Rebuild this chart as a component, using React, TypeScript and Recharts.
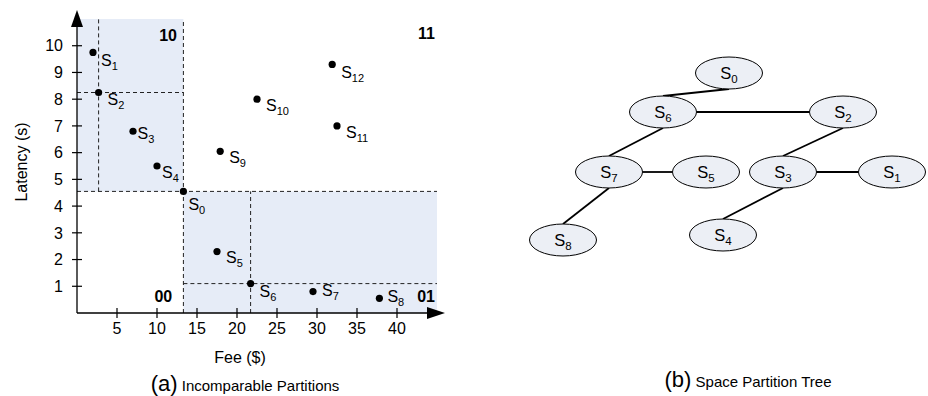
import React from 'react';
import {
  ScatterChart,
  Scatter,
  XAxis,
  YAxis,
  ReferenceArea,
  ReferenceLine,
  ReferenceDot,
} from 'recharts';

// ---------- Data: panel (a) ----------
const serviceNames = ['S0', 'S1', 'S2', 'S3', 'S4', 'S5', 'S6', 'S7', 'S8', 'S9', 'S10', 'S11', 'S12'];
const fees = [13.3, 2.0, 2.7, 7.0, 10.0, 17.5, 21.7, 29.5, 37.8, 17.9, 22.5, 32.5, 31.9];
const latencies = [4.55, 9.75, 8.25, 6.8, 5.5, 2.3, 1.1, 0.8, 0.55, 6.05, 8.0, 7.0, 9.3];
const feeTicks = [5, 10, 15, 20, 25, 30, 35, 40];
const latencyTicks = [1, 2, 3, 4, 5, 6, 7, 8, 9, 10];
const feeDomain: [number, number] = [0, 45];
const latencyDomain: [number, number] = [0, 11];
const regionCodes = ['10', '11', '00', '01'];
const regionFee = [12.5, 44.75, 11.9, 44.75];
const regionLatency = [10.4, 10.45, 0.62, 0.62];

// ---------- Data: panel (b) ----------
const treeNodes = ['S0', 'S6', 'S2', 'S7', 'S5', 'S3', 'S1', 'S8', 'S4'];
const treeX = [729, 663, 843, 609, 706, 783, 892, 563, 723];
const treeY = [73, 112, 112, 172, 172, 172, 172, 240, 235];
const treeEdges: [string, string][] = [
  ['S0', 'S6'],
  ['S6', 'S2'],
  ['S6', 'S7'],
  ['S7', 'S5'],
  ['S7', 'S8'],
  ['S2', 'S3'],
  ['S3', 'S1'],
  ['S3', 'S4'],
];

// ---------- Styles ----------
const FONT = '"Liberation Sans", Arial, Helvetica, sans-serif';
const SHADE = '#e6ecf7';
const NODE_FILL = '#eceff5';
const RX = 33.5;
const RY = 16;
const TICK_SIZE = 5;
const X_TICK_MARGIN = 5;
const Y_TICK_MARGIN = 9;

const defaultLabelOffset = { dx: 9, dy: 6 };
const labelOffsets: Record<string, { dx: number; dy: number }> = {
  S0: { dx: 5, dy: 13 },
  S1: { dx: 8, dy: 8 },
  S2: { dx: 9, dy: 7 },
  S3: { dx: 4.5, dy: 2.5 },
  S4: { dx: 5, dy: 6 },
  S6: { dx: 9, dy: 8 },
  S7: { dx: 9, dy: -1 },
  S8: { dx: 8, dy: -2 },
  S12: { dx: 9, dy: 8 },
};

const points = serviceNames.map((name, i) => ({ name, x: fees[i], y: latencies[i] }));
const nodes = treeNodes.map((name, i) => ({ name, x: treeX[i], y: treeY[i] }));
const nodeByName: Record<string, { x: number; y: number }> = {};
nodes.forEach((n) => (nodeByName[n.name] = n));

const pivot = points[0]; // S0
const pivotTop = points[2]; // S2
const pivotBottom = points[6]; // S6

const SubLabel = ({ x, y, name, anchor, size = 16, sub = 11 }: any) => (
  <text x={x} y={y} textAnchor={anchor} fontSize={size} fill="#000" fontFamily={FONT}>
    <tspan>{name.slice(0, 1)}</tspan>
    <tspan fontSize={sub} dy={4}>
      {name.slice(1)}
    </tspan>
  </text>
);

const PointShape = (props: any) => {
  const { cx, cy, payload } = props;
  const off = labelOffsets[payload.name] ?? defaultLabelOffset;
  return (
    <g>
      <circle cx={cx} cy={cy} r={3.6} fill="#000" />
      <SubLabel x={cx + off.dx} y={cy + off.dy + 5.7} name={payload.name} anchor="start" />
    </g>
  );
};

const NodeShape = (props: any) => {
  const { cx, cy, payload } = props;
  return (
    <g>
      <ellipse cx={cx} cy={cy} rx={RX} ry={RY} fill={NODE_FILL} stroke="#000" strokeWidth={1} />
      <SubLabel x={cx} y={cy + 5.9} name={payload.name} anchor="middle" size={16.5} sub={11.5} />
    </g>
  );
};

const XTick = (props: any) => {
  const { x, y, payload } = props;
  const axisY = y - TICK_SIZE - X_TICK_MARGIN;
  return (
    <g>
      <line x1={x} x2={x} y1={axisY - 5} y2={axisY + 5} stroke="#000" strokeWidth={1.2} />
      <text x={x} y={y} dy="0.71em" textAnchor="middle" fontSize={16} fill="#000" fontFamily={FONT}>
        {payload.value}
      </text>
    </g>
  );
};

const YTick = (props: any) => {
  const { x, y, payload } = props;
  const axisX = x + TICK_SIZE + Y_TICK_MARGIN;
  return (
    <g>
      <line x1={axisX - 5} x2={axisX + 5} y1={y} y2={y} stroke="#000" strokeWidth={1.2} />
      <text x={x} y={y} dy="0.36em" textAnchor="end" fontSize={16} fill="#000" fontFamily={FONT}>
        {payload.value}
      </text>
    </g>
  );
};

const UpArrow = (props: any) => {
  const { cx, cy } = props;
  return <polygon points={`${cx},${cy - 9} ${cx - 6},${cy + 8} ${cx + 6},${cy + 8}`} fill="#000" />;
};

const RightArrow = (props: any) => {
  const { cx, cy } = props;
  return <polygon points={`${cx + 8},${cy} ${cx - 10},${cy - 6} ${cx - 10},${cy + 6}`} fill="#000" />;
};

const RegionText = (text: string) => (props: any) => {
  const { cx, cy } = props;
  return (
    <text x={cx} y={cy + 5.7} textAnchor="end" fontSize={16} fontWeight="bold" fill="#000" fontFamily={FONT}>
      {text}
    </text>
  );
};

const dash = { stroke: '#222', strokeDasharray: '4 3', strokeWidth: 1 };

function edgeSegment(a: string, b: string) {
  const p = nodeByName[a];
  const c = nodeByName[b];
  if (p.y === c.y) {
    const s = c.x > p.x ? 1 : -1;
    return [
      { x: p.x + s * RX, y: p.y },
      { x: c.x - s * RX, y: c.y },
    ];
  }
  return [
    { x: p.x, y: p.y + RY },
    { x: c.x, y: c.y - RY },
  ];
}

export default function App() {
  return (
    <div
      style={{
        position: 'absolute',
        left: 0,
        top: 0,
        width: 928,
        height: 396,
        background: '#fff',
        fontFamily: FONT,
        overflow: 'hidden',
      }}
    >
      <div style={{ position: 'absolute', left: 0, top: 0 }}>
        <ScatterChart width={470} height={396} margin={{ top: 19, right: 33, left: 17, bottom: 53 }}>
          <XAxis
            type="number"
            dataKey="x"
            domain={feeDomain}
            ticks={feeTicks}
            allowDataOverflow
            height={30}
            tickSize={TICK_SIZE}
            tickMargin={X_TICK_MARGIN}
            tickLine={false}
            axisLine={{ stroke: '#000', strokeWidth: 1.3 }}
            tick={<XTick />}
            label={{
              content: (p: any) => (
                <text
                  x={p.viewBox.x + 163}
                  y={p.viewBox.y + 50}
                  textAnchor="middle"
                  fontSize={16}
                  fill="#000"
                  fontFamily={FONT}
                >
                  Fee ($)
                </text>
              ),
            }}
          />
          <YAxis
            type="number"
            dataKey="y"
            domain={latencyDomain}
            ticks={latencyTicks}
            allowDataOverflow
            width={60}
            tickSize={TICK_SIZE}
            tickMargin={Y_TICK_MARGIN}
            tickLine={false}
            axisLine={{ stroke: '#000', strokeWidth: 1.3 }}
            tick={<YTick />}
            label={{
              content: (p: any) => {
                const cx = p.viewBox.x + 4;
                const cy = 162;
                return (
                  <text
                    x={cx}
                    y={cy}
                    transform={`rotate(-90, ${cx}, ${cy})`}
                    textAnchor="middle"
                    dy="0.36em"
                    fontSize={16}
                    fill="#000"
                    fontFamily={FONT}
                  >
                    Latency (s)
                  </text>
                );
              },
            }}
          />
          <ReferenceArea
            x1={feeDomain[0]}
            x2={pivot.x}
            y1={pivot.y}
            y2={latencyDomain[1]}
            fill={SHADE}
            fillOpacity={1}
            stroke="none"
          />
          <ReferenceArea
            x1={pivot.x}
            x2={feeDomain[1]}
            y1={latencyDomain[0]}
            y2={pivot.y}
            fill={SHADE}
            fillOpacity={1}
            stroke="none"
          />
          <ReferenceLine
            segment={[
              { x: pivot.x, y: latencyDomain[0] },
              { x: pivot.x, y: latencyDomain[1] },
            ]}
            {...dash}
          />
          <ReferenceLine
            segment={[
              { x: feeDomain[0], y: pivot.y },
              { x: feeDomain[1], y: pivot.y },
            ]}
            {...dash}
          />
          <ReferenceLine
            segment={[
              { x: pivotTop.x, y: pivot.y },
              { x: pivotTop.x, y: latencyDomain[1] },
            ]}
            {...dash}
          />
          <ReferenceLine
            segment={[
              { x: feeDomain[0], y: pivotTop.y },
              { x: pivot.x, y: pivotTop.y },
            ]}
            {...dash}
          />
          <ReferenceLine
            segment={[
              { x: pivotBottom.x, y: latencyDomain[0] },
              { x: pivotBottom.x, y: pivot.y },
            ]}
            {...dash}
          />
          <ReferenceLine
            segment={[
              { x: pivot.x, y: pivotBottom.y },
              { x: feeDomain[1], y: pivotBottom.y },
            ]}
            {...dash}
          />
          {regionCodes.map((code, i) => (
            <ReferenceDot
              key={code}
              x={regionFee[i]}
              y={regionLatency[i]}
              r={0}
              ifOverflow="visible"
              shape={RegionText(code)}
            />
          ))}
          <ReferenceDot x={0} y={latencyDomain[1]} r={0} ifOverflow="visible" shape={<UpArrow />} />
          <ReferenceDot x={feeDomain[1]} y={0} r={0} ifOverflow="visible" shape={<RightArrow />} />
          <Scatter data={points} shape={<PointShape />} isAnimationActive={false} />
        </ScatterChart>
      </div>

      <div style={{ position: 'absolute', left: 470, top: 0 }}>
        <ScatterChart width={458} height={396} margin={{ top: 0, right: 0, left: 0, bottom: 0 }}>
          <XAxis type="number" dataKey="x" domain={[470, 928]} hide />
          <YAxis type="number" dataKey="y" domain={[0, 396]} reversed hide />
          {treeEdges.map(([a, b]) => (
            <ReferenceLine
              key={a + b}
              segment={edgeSegment(a, b)}
              stroke="#000"
              strokeWidth={1.8}
              ifOverflow="visible"
            />
          ))}
          <Scatter data={nodes} shape={<NodeShape />} isAnimationActive={false} />
        </ScatterChart>
      </div>

      <div
        style={{
          position: 'absolute',
          left: 245,
          top: 372,
          transform: 'translateX(-50%)',
          whiteSpace: 'nowrap',
          lineHeight: '24px',
          color: '#000',
        }}
      >
        <span style={{ fontSize: 22 }}>(a)</span>
        <span style={{ fontSize: 15 }}> Incomparable Partitions</span>
      </div>
      <div
        style={{
          position: 'absolute',
          left: 748,
          top: 368,
          transform: 'translateX(-50%)',
          whiteSpace: 'nowrap',
          lineHeight: '24px',
          color: '#000',
        }}
      >
        <span style={{ fontSize: 22 }}>(b)</span>
        <span style={{ fontSize: 15 }}> Space Partition Tree</span>
      </div>
    </div>
  );
}
